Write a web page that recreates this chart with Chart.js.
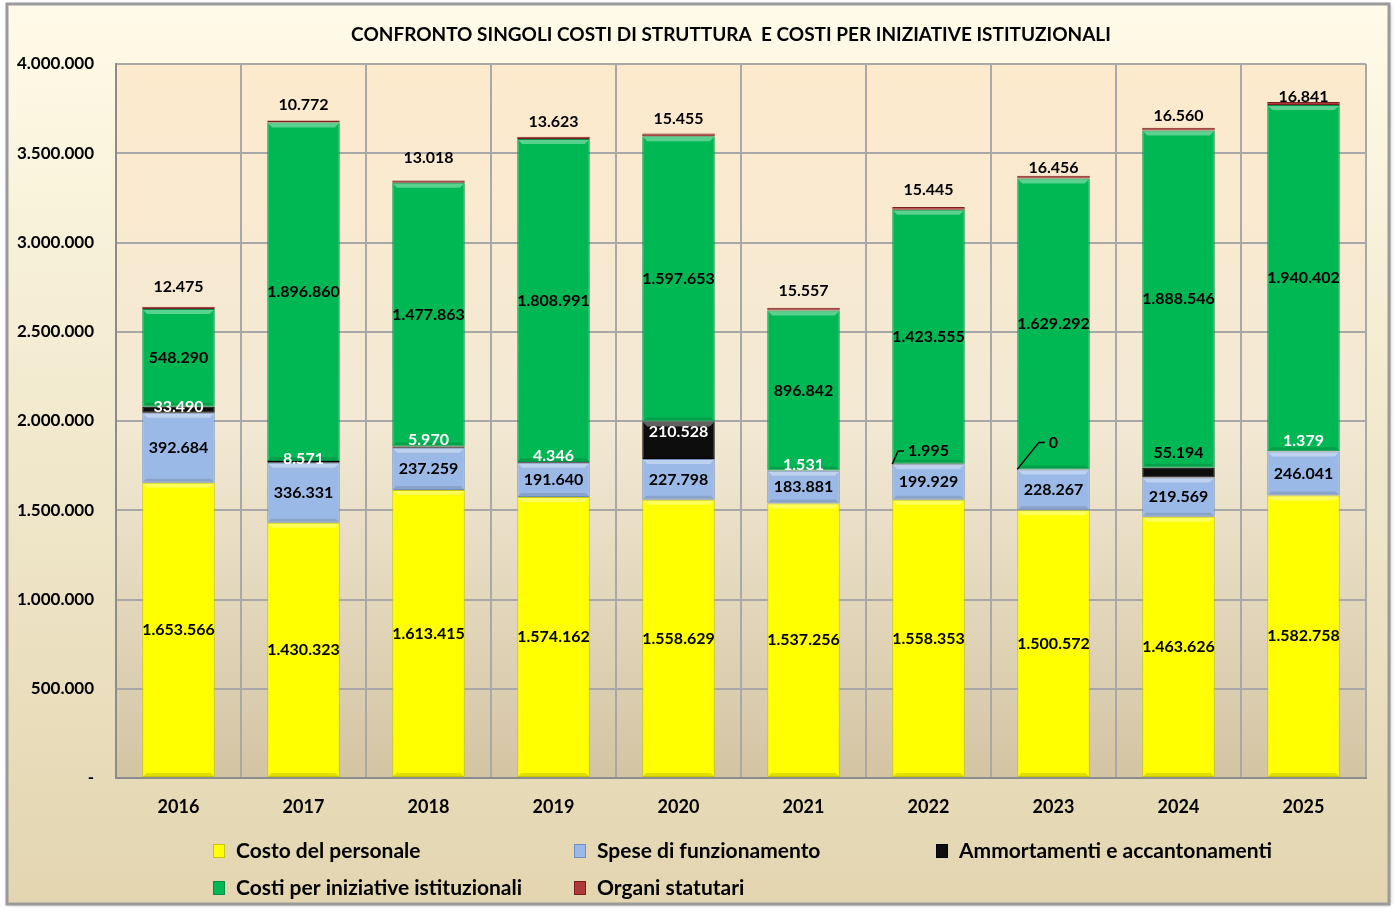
<!DOCTYPE html>
<html>
<head>
<meta charset="utf-8">
<script src="https://cdn.jsdelivr.net/npm/chart.js@4.4.1/dist/chart.umd.min.js"></script>
<style>
  html, body { margin: 0; padding: 0; background: #fff; }
  #wrap { width: 1394px; height: 908px; position: relative; }
</style>
</head>
<body>
<div id="wrap"><canvas id="chart"></canvas></div>
<script>
'use strict'

const years = ['2016', '2017', '2018', '2019', '2020', '2021', '2022', '2023', '2024', '2025'];
const personale = [1653566, 1430323, 1613415, 1574162, 1558629, 1537256, 1558353, 1500572, 1463626, 1582758];
const spese = [392684, 336331, 237259, 191640, 227798, 183881, 199929, 228267, 219569, 246041];
const ammortamenti = [33490, 8571, 5970, 4346, 210528, 1531, 1995, 0, 55194, 1379];
const iniziative = [548290, 1896860, 1477863, 1808991, 1597653, 896842, 1423555, 1629292, 1888546, 1940402];
const organi = [12475, 10772, 13018, 13623, 15455, 15557, 15445, 16456, 16560, 16841];
const yMax = 4000000;
const yStep = 500000;

const title = 'CONFRONTO SINGOLI COSTI DI STRUTTURA  E COSTI PER INIZIATIVE ISTITUZIONALI';
const FONT = 'Lato';

// label tweaks for the thin segments (offsets in px, like the hand-moved labels in the original)
const ammoLabel = [
  { dy: -3, color: '#fff' }, { dy: -3, color: '#fff' }, { dy: -7, color: '#fff' },
  { dy: -7, color: '#fff' }, { dy: -8, color: '#fff' }, { dy: -6, color: '#fff' },
  { dy: -13, color: '#000', leader: true }, { dy: -27, color: '#000', leader: true },
  { dy: -20, color: '#000' }, { dy: -11, color: '#fff' }
];
const organiDy = [-20, -16, -23, -15, -15, -17, -17, -8, -12, -5];

const fmt = v => String(v).replace(/\B(?=(\d{3})+(?!\d))/g, '.');

const frame = {
  id: 'frame',
  beforeDraw(chart) {
    const c = chart.ctx, a = chart.chartArea;
    c.save();
    c.fillStyle = '#ffffff';
    c.fillRect(0, 0, chart.width, chart.height);
    // outer frame
    let g = c.createLinearGradient(0, 4, 0, 904);
    g.addColorStop(0, '#fffbe8');
    g.addColorStop(1, '#e3d5b0');
    c.shadowColor = 'rgba(0,0,0,0.35)';
    c.shadowBlur = 4;
    c.shadowOffsetX = 1;
    c.shadowOffsetY = 1;
    c.fillStyle = g;
    c.fillRect(7, 4, 1382, 900);
    c.shadowColor = 'transparent';
    c.strokeStyle = '#9a9a9a';
    c.lineWidth = 3;
    c.strokeRect(7, 4, 1382, 900);
    // plot area
    g = c.createLinearGradient(0, a.top, 0, a.bottom);
    g.addColorStop(0, '#fdeacd');
    g.addColorStop(0.5, '#f3e9d4');
    g.addColorStop(1, '#d3c4a3');
    c.fillStyle = g;
    c.fillRect(a.left, a.top, a.right - a.left, a.bottom - a.top);
    // title
    c.fillStyle = '#000';
    c.font = 'bold 19px ' + FONT;
    c.textAlign = 'center';
    c.textBaseline = 'middle';
    c.fillText(title, 731, 35);
    c.restore();
  }
};

// soft bevel like the Excel bars: light band on top, shade at the bottom
const bevel = {
  id: 'bevel',
  afterDatasetsDraw(chart) {
    const c = chart.ctx;
    c.save();
    chart.data.datasets.forEach((ds, di) => {
      chart.getDatasetMeta(di).data.forEach(bar => {
        const top = Math.min(bar.y, bar.base), h = Math.abs(bar.base - bar.y);
        if (h < 10) return;
        const x0 = bar.x - bar.width / 2, x1 = bar.x + bar.width / 2;
        c.fillStyle = 'rgba(255,255,255,0.35)';
        c.beginPath();
        c.moveTo(x0 + 1, top + 1);
        c.lineTo(x1 - 1, top + 1);
        c.lineTo(x1 - 5, top + 5);
        c.lineTo(x0 + 5, top + 5);
        c.closePath();
        c.fill();
        c.fillStyle = 'rgba(0,0,0,0.12)';
        c.beginPath();
        c.moveTo(x0 + 1, top + h - 1);
        c.lineTo(x1 - 1, top + h - 1);
        c.lineTo(x1 - 4, top + h - 4);
        c.lineTo(x0 + 4, top + h - 4);
        c.closePath();
        c.fill();
      });
    });
    c.restore();
  }
};

const segLabels = {
  id: 'segLabels',
  afterDatasetsDraw(chart) {
    const c = chart.ctx;
    c.save();
    c.font = 'bold 16px ' + FONT;
    c.textAlign = 'center';
    c.textBaseline = 'middle';
    chart.data.datasets.forEach((ds, di) => {
      const meta = chart.getDatasetMeta(di);
      meta.data.forEach((bar, i) => {
        const v = ds.data[i];
        const mid = (bar.y + bar.base) / 2;
        let x = bar.x, y = mid, color = '#000';
        if (ds.labelMode === 'ammo') {
          const s = ammoLabel[i];
          y = mid + s.dy;
          color = s.color;
          if (s.leader) {
            const w = c.measureText(fmt(v)).width;
            const x0 = bar.x - bar.width / 2;
            const tx = x - w / 2 - 4;
            c.strokeStyle = '#000';
            c.lineWidth = 1.5;
            c.beginPath();
            c.moveTo(x0, bar.base);
            c.lineTo(tx - 6, y);
            c.lineTo(tx, y);
            c.stroke();
          }
        } else if (ds.labelMode === 'top') {
          y = Math.min(bar.y, bar.base) + organiDy[i];
        }
        c.fillStyle = color;
        c.fillText(fmt(v), x, y);
      });
    });
    c.restore();
  }
};

const legendBox = {
  id: 'legendBox',
  afterDraw(chart) {
    const c = chart.ctx;
    const cols = [213, 574, 936];
    const rows = [851, 888];
    c.save();
    c.font = 'bold 21px ' + FONT;
    c.textBaseline = 'middle';
    c.textAlign = 'left';
    chart.data.datasets.forEach((ds, i) => {
      const x = cols[i % 3], y = rows[Math.floor(i / 3)];
      c.fillStyle = ds.backgroundColor;
      c.fillRect(x, y - 7, 12, 14);
      c.strokeStyle = ds.borderColor;
      c.lineWidth = 1;
      c.strokeRect(x + 0.5, y - 6.5, 11, 13);
      c.fillStyle = '#000';
      c.fillText(ds.label, x + 23, y);
    });
    c.restore();
  }
};

const bar = (label, data, bg, border, labelMode) => ({
  label, data, backgroundColor: bg, borderColor: border, borderWidth: 1,
  borderSkipped: false, labelMode,
  barPercentage: 0.58, categoryPercentage: 1
});

new Chart(document.getElementById('chart'), {
  type: 'bar',
  data: {
    labels: years,
    datasets: [
      bar('Costo del personale', personale, '#ffff00', '#c8c800', 'center'),
      bar('Spese di funzionamento', spese, '#9bb9e6', '#6f8fbf', 'center'),
      bar('Ammortamenti e accantonamenti', ammortamenti, '#0d0d0d', '#000000', 'ammo'),
      bar('Costi per iniziative istituzionali', iniziative, '#00b853', '#00904a', 'center'),
      bar('Organi statutari', organi, '#b03a3a', '#7a1f1f', 'top')
    ]
  },
  options: {
    responsive: true,
    maintainAspectRatio: false,
    animation: false,
    layout: { padding: { left: 0, right: 28, top: 64, bottom: 80 } },
    scales: {
      x: {
        stacked: true,
        grid: { color: '#a8a8a8', lineWidth: 2, drawTicks: false, offset: true },
        border: { color: '#8c8c8c', width: 2 },
        ticks: { color: '#000', font: { family: FONT, weight: 'bold', size: 18 }, padding: 18 },
        afterFit(s) { s.height = 50; }
      },
      y: {
        stacked: true,
        min: 0,
        max: yMax,
        grid: { color: '#a8a8a8', lineWidth: 2, drawTicks: false },
        border: { color: '#8c8c8c', width: 2 },
        ticks: {
          stepSize: yStep,
          color: '#000',
          font: { family: FONT, weight: 'bold', size: 17 },
          padding: 22,
          callback: v => v === 0 ? '-' : fmt(v)
        },
        afterFit(s) { s.width = 116; }
      }
    },
    plugins: {
      legend: { display: false },
      tooltip: { enabled: false }
    }
  },
  plugins: [frame, bevel, segLabels, legendBox]
});
</script>
</body>
</html>
